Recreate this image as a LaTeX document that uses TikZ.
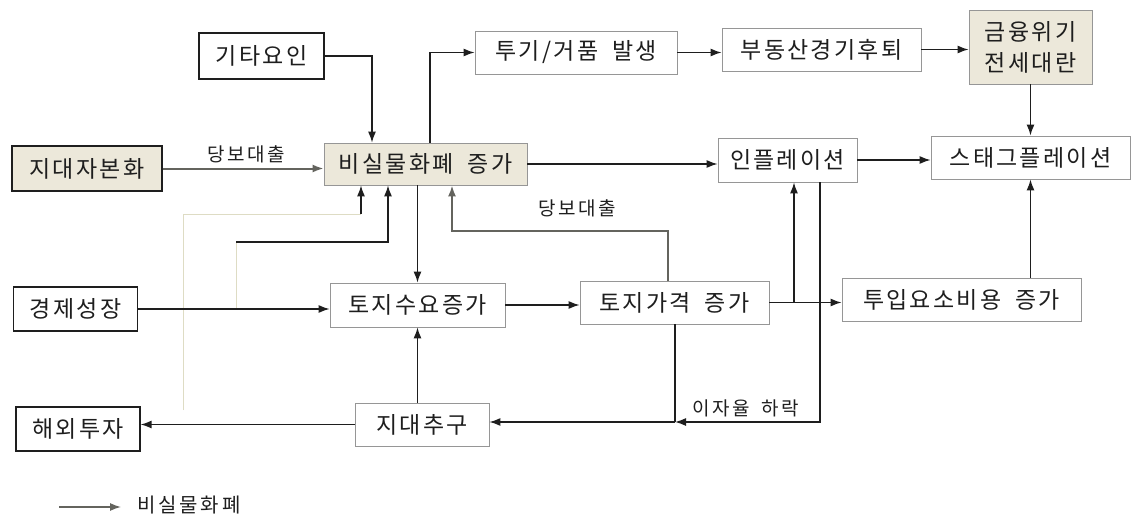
\documentclass[tikz,border=0pt]{standalone}
\usepackage{fontspec}
\setmainfont{Noto Sans CJK KR}
\newfontfamily\kbox[LetterSpace=10]{Noto Sans CJK KR}
\newfontfamily\klab[LetterSpace=14]{Noto Sans CJK KR}
\usetikzlibrary{arrows.meta,calc}
\definecolor{beige}{RGB}{236,232,218}
\definecolor{lgray}{RGB}{150,150,150}
\definecolor{mgray}{RGB}{100,100,94}
\definecolor{faint}{RGB}{222,220,196}
\definecolor{ink}{RGB}{30,30,30}
\newcommand{\kgap}{\hspace{0.6em}}
\begin{document}
\begin{tikzpicture}[x=1pt,y=-1pt,
  box/.style={draw=lgray, line width=0.8pt, inner sep=0pt, font=\kbox\fontsize{23}{27}\selectfont, text=ink},
  darkbox/.style={box, draw=ink, line width=1.2pt},
  fillbox/.style={fill=beige},
  arr/.style={draw=ink, line width=1.4pt, -{Latex[length=11pt,width=8pt]}},
  garr/.style={draw=mgray, line width=2pt, -{Latex[length=11pt,width=8pt]}},
  ln/.style={draw=ink, line width=1.4pt},
  fl/.style={draw=faint, line width=1pt},
  lbl/.style={font=\klab\fontsize{19}{22}\selectfont, text=ink, inner sep=0pt},
]
\fill[white] (0,0) rectangle (1135,516);
\useasboundingbox (0,0) rectangle (1135,516);

% nodes
\node[darkbox, minimum width=125pt, minimum height=46pt] (gita) at (261.5,56) {기타요인};
\node[darkbox, fillbox, minimum width=150pt, minimum height=45pt] (jidae) at (87,168.5) {지대자본화};
\node[box, fillbox, minimum width=203pt, minimum height=42pt] (bsil) at (425.5,164) {비실물화폐\kgap 증가};
\node[box, minimum width=202pt, minimum height=43pt] (tugi) at (576,52.5) {투기/거품\kgap 발생};
\node[box, minimum width=199pt, minimum height=43pt] (budong) at (821.5,49.5) {부동산경기후퇴};
\node[box, fillbox, minimum width=123pt, minimum height=74pt, align=center, font=\kbox\fontsize{23}{31}\selectfont] (geum) at (1030.5,47) {금융위기\\전세대란};
\node[box, minimum width=139pt, minimum height=44pt] (infl) at (787.5,160) {인플레이션};
\node[box, minimum width=199pt, minimum height=43pt] (stag) at (1030.5,157.5) {스태그플레이션};
\node[darkbox, minimum width=124pt, minimum height=44pt] (gyeong) at (75.5,309) {경제성장};
\node[box, minimum width=175pt, minimum height=44pt] (tsuyo) at (417.5,305) {토지수요증가};
\node[box, minimum width=189pt, minimum height=43pt] (tgag) at (674.5,302.5) {토지가격\kgap 증가};
\node[box, minimum width=239pt, minimum height=43pt] (tuip) at (961.5,299.5) {투입요소비용\kgap 증가};
\node[darkbox, minimum width=124pt, minimum height=44pt] (haeoe) at (78,429) {해외투자};
\node[box, minimum width=134pt, minimum height=43pt] (jichu) at (422,424.5) {지대추구};

% coordinates
\coordinate (xA) at (372,0);
\coordinate (xB) at (430,0);
\coordinate (xC) at (668,231);
\coordinate (xD) at (452,231);
\coordinate (f1) at (183,410);
\coordinate (f2) at (183,214);
\coordinate (f3) at (361,214);
\coordinate (g2) at (236,242);
\coordinate (g3) at (388,242);
\coordinate (xE) at (794,0);
\coordinate (xF) at (820,422);
\coordinate (xG) at (675,422);

% connectors
\draw[arr] (gita.east) -| (xA |- bsil.north);
\draw[garr] (jidae.east) -- (jidae.east -| bsil.west);
\node[lbl] (lab1) at (246,154) {당보대출};
\draw[arr] (xB |- bsil.north) |- (tugi.west);
\draw[arr] (tugi.east) -- (tugi.east -| budong.west);
\draw[arr] (budong.east) -- (budong.east -| geum.west);
\draw[arr] (geum.south) -- (stag.north);
\draw[arr] (bsil.east) -- (bsil.east -| infl.west);
\draw[arr] (infl.east) -- (infl.east -| stag.west);
\draw[arr] (bsil.south -| tsuyo.north) -- (tsuyo.north);
\draw[garr] (tgag.north -| xC) |- (xD) -- (xD |- bsil.south);
\node[lbl] (lab2) at (577,208) {당보대출};
\draw[fl] (f1) -- (f2) -- (f3);
\draw[arr] (f3) -- (f3 |- bsil.south);
\draw[fl] (g2 |- gyeong.east) -- (g2);
\draw[arr] (g2) -- (g3) -- (g3 |- bsil.south);
\draw[arr] (gyeong.east) -- (gyeong.east -| tsuyo.west);
\draw[arr] (tsuyo.east) -- (tsuyo.east -| tgag.west);
\draw[arr] (tgag.east) -- (tgag.east -| tuip.west);
\draw[arr] (tgag.east -| xE) -- (xE |- infl.south);
\draw[arr] (infl.south -| xF) -- (xF) -- (xG);
\draw[ln] (tgag.south -| xG) -- (xG);
\draw[arr] (xG) -- (xG -| jichu.east);
\node[lbl] (lab3) at (746,408) {이자율\kgap 하락};
\draw[arr] (tuip.north -| stag.south) -- (stag.south);
\draw[arr] (jichu.north -| tsuyo.south) -- (tsuyo.south);
\draw[arr] (jichu.west) -- (jichu.west -| haeoe.east);

% legend
\coordinate (lg1) at (59,507);
\coordinate (lg2) at (121,507);
\draw[garr, line width=1.4pt] (lg1) -- (lg2);
\node[lbl, font=\klab\fontsize{20}{24}\selectfont, anchor=west] (legend) at (137,505) {비실물화폐};
\end{tikzpicture}
\end{document}
